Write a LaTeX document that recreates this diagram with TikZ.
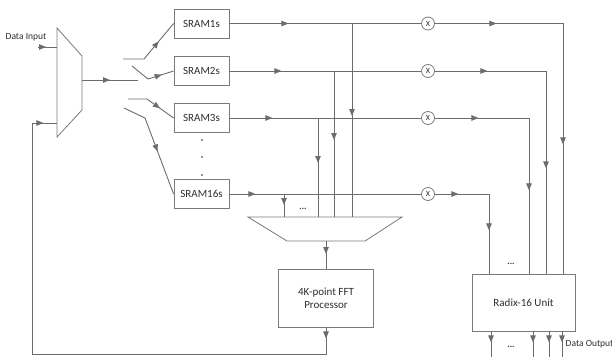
\documentclass[tikz,border=0pt]{standalone}
\usepackage{fontspec}
\setmainfont{Carlito}
\usetikzlibrary{arrows.meta,decorations.markings}
\definecolor{lc}{HTML}{6C6C6C}
\definecolor{bc}{HTML}{7A7A7A}
\definecolor{tx}{HTML}{2E2E2E}
\tikzset{
  ln/.style={draw=lc, line width=0.9pt},
  midarr/.style={postaction={decorate,decoration={markings,mark=at position #1pt with {\arrow{Triangle[length=7pt,width=5.5pt]}}}}},
  box/.style={draw=bc, line width=0.8pt, fill=white, text=tx, font=\fontsize{11}{13.5}\selectfont, align=center, inner sep=0pt},
  sram/.style={box, minimum width=55pt, minimum height=29pt},
  mult/.style={circle, draw=bc, line width=0.8pt, fill=white, text=tx, minimum size=13pt, inner sep=0pt, font=\fontsize{8}{9}\selectfont},
  lbl/.style={text=tx, font=\fontsize{9.5}{11}\selectfont, inner sep=0pt},
  ell/.style={text=tx, font=\fontsize{9}{10}\selectfont\bfseries, inner sep=0pt},
  vdot/.style={circle, fill=tx, inner sep=0pt, minimum size=1.8pt},
  mux/.style={draw=bc, line width=0.8pt, fill=white}
}
\begin{document}
\begin{tikzpicture}[x=1pt, y=-1pt]
\useasboundingbox (0,0) rectangle (612,357);

% left multiplexer
\coordinate (a1) at (57,28);
\coordinate (a2) at (82,56);
\coordinate (a3) at (82,110);
\coordinate (a4) at (57,137);
\draw[mux] (a1) -- (a2) -- (a3) -- (a4) -- cycle;

% SRAM boxes
\node[sram] (s1) at (201.5,23.5) {SRAM1s};
\node[sram] (s2) at (201.5,71) {SRAM2s};
\node[sram] (s3) at (201.5,118) {SRAM3s};
\node[sram] (s16) at (201.5,194) {SRAM16s};
\node[vdot] (d1) at (202,140) {};
\node[vdot] (d2) at (202,157) {};
\node[vdot] (d3) at (202,175) {};

% multipliers
\node[mult] (m1) at (428,23.5) {X};
\node[mult] (m2) at (428,71) {X};
\node[mult] (m3) at (428,118) {X};
\node[mult] (m16) at (428,194) {X};

% bottom multiplexer
\coordinate (b1) at (248,217);
\coordinate (b2) at (402,217);
\coordinate (b3) at (365,241);
\coordinate (b4) at (287,241);
\draw[mux] (b1) -- (b2) -- (b3) -- (b4) -- cycle;
\coordinate (bo) at (326,241);

% FFT and radix
\node[box, minimum width=95pt, minimum height=58pt] (fft) at (326,298) {4K-point FFT\\Processor};
\node[box, minimum width=103pt, minimum height=57pt] (rdx) at (523.5,302.5) {Radix-16 Unit};

% labels
\node[lbl] (din) at (26,37) {Data Input};
\node[lbl, anchor=west] (dout) at (565.5,344) {Data Output};
\node[ell] (e1) at (303,209) {...};
\node[ell] (e2) at (511,264) {...};
\node[ell] (e3) at (511,347) {...};

% data input
\coordinate (di) at (38,47);
\coordinate (dim) at (57,47);
\draw[ln, midarr=8] (di) -- (dim);

% mux output
\coordinate (mo) at (82,80);
\coordinate (moe) at (138,80);
\draw[ln, midarr=28] (mo) -- (moe);

% switches
\coordinate (w1) at (123,59);  \coordinate (w1b) at (144,59);
\coordinate (w2) at (132,66);  \coordinate (w2b) at (148,79);
\coordinate (w3) at (128,99);  \coordinate (w3b) at (147,99);
\coordinate (w16) at (124,108); \coordinate (w16b) at (145,118);
\draw[ln, midarr=44] (w1) -- (w1b) -- (s1.west);
\draw[ln, midarr=35] (w2) -- (w2b) -- (s2.west);
\draw[ln, midarr=35] (w3) -- (w3b) -- (s3.west);
\draw[ln, midarr=59] (w16) -- (w16b) -- (s16.west);

% columns
\coordinate (k1) at (563,23.5);
\coordinate (k2) at (546,71);
\coordinate (k3) at (529,118);
\coordinate (k16) at (489,194);
\coordinate (t1) at (352,23.5);
\coordinate (t2) at (334,71);
\coordinate (t3) at (318,118);
\coordinate (t16) at (284,194);

% taps to the bottom multiplexer
\draw[ln, midarr=92.5] (t1) -- (t1 |- b1);
\draw[ln, midarr=69] (t2) -- (t2 |- b1);
\draw[ln, midarr=45] (t3) -- (t3 |- b1);
\draw[ln, midarr=11] (t16) -- (t16 |- b1);

% rows
\draw[ln, midarr=59] (s1.east) -- (m1.west);
\draw[ln, midarr=52] (s2.east) -- (m2.west);
\draw[ln, midarr=43] (s3.east) -- (m3.west);
\draw[ln, midarr=26] (s16.east) -- (m16.west);
\draw[ln, midarr=61.5, midarr=249] (m1.east) -- (k1) -- (k1 |- rdx.north);
\draw[ln, midarr=52.5, midarr=208.5] (m2.east) -- (k2) -- (k2 |- rdx.north);
\draw[ln, midarr=43.5, midarr=166.5] (m3.east) -- (k3) -- (k3 |- rdx.north);
\draw[ln, midarr=23.5, midarr=90.5] (m16.east) -- (k16) -- (k16 |- rdx.north);

% mux to FFT
\draw[ln, midarr=13] (bo) -- (fft.north);

% feedback
\coordinate (fb1) at (326,354);
\coordinate (fb2) at (32,354);
\coordinate (fb3) at (32,123);
\coordinate (fb) at (57,123);
\draw[ln, midarr=11, midarr=563] (fft.south) -- (fb1) -- (fb2) -- (fb3) -- (fb);

% radix outputs
\coordinate (o1) at (491,357);
\coordinate (o2) at (533,357);
\coordinate (o3) at (549,357);
\coordinate (o4) at (562,357);
\draw[ln, midarr=11] (o1 |- rdx.south) -- (o1);
\draw[ln, midarr=11] (o2 |- rdx.south) -- (o2);
\draw[ln, midarr=11] (o3 |- rdx.south) -- (o3);
\draw[ln, midarr=11] (o4 |- rdx.south) -- (o4);
\end{tikzpicture}
\end{document}
